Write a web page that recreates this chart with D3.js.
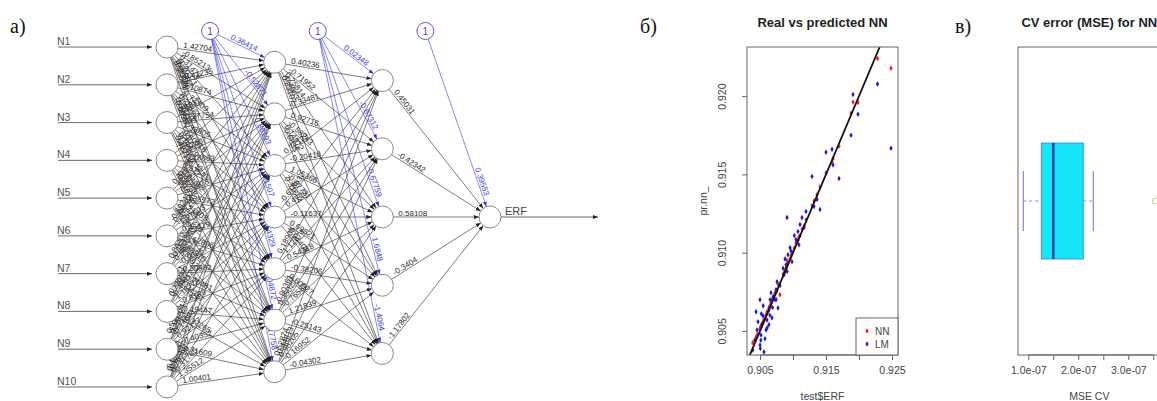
<!DOCTYPE html>
<html>
<head>
<meta charset="utf-8">
<script src="https://cdn.jsdelivr.net/npm/d3@7"></script>
<style>
  body { margin: 0; background: #fff; }
  svg { display: block; }
</style>
</head>
<body>
<div id="chart"></div>
<script>
// ---- a) network: names and weights
const inputNames = ["N1", "N2", "N3", "N4", "N5", "N6", "N7", "N8", "N9", "N10"];
const outputName = "ERF";
const hiddenSizes = [7, 5];
const wInHidden1 = [
  [1.42704, -0.85213, 0.31478, -1.20371, 0.66902, -0.23116, 0.95044],
  [-0.41235, 1.10874, -0.73309, 0.28861, -1.51702, 0.80433, -0.09987],
  [0.63120, -0.27754, 1.33905, -0.60018, 0.14429, -1.02856, 0.47713],
  [-1.13320, 0.52407, -0.18863, 0.97541, -0.44092, 0.36258, -0.81674],
  [0.21836, -0.96145, 0.70018, -0.35572, 1.21403, -0.57716, 0.08834],
  [-0.69241, 0.37725, -1.27603, 0.45119, -0.12806, 0.88315, -0.53927],
  [0.84402, -0.15338, 0.56674, -0.93057, 0.30982, -0.70481, 1.04367],
  [-0.26571, 0.73059, -0.48812, 1.16724, -0.81390, 0.19447, -0.37265],
  [0.55963, -1.08704, 0.25530, -0.14681, 0.92177, -0.40352, 0.71609],
  [-0.88124, 0.43891, -0.62357, 0.79206, -0.31765, 1.35512, 1.00401]
];
const bHidden1 = [0.36414, -0.52871, 0.88193, -0.21507, 0.64329, -1.04872, 0.17758];
const wHidden1Hidden2 = [
  [0.40236, -0.71952, 0.25814, -0.49630, 0.83107],
  [-0.33481, 0.92716, -0.58243, 0.14972, -0.68350],
  [0.77129, -0.20418, 1.05366, -0.87731, 0.31694],
  [-0.61853, 0.47290, -0.11637, 0.69521, -0.94408],
  [0.18905, -1.12674, 0.54318, -0.38206, 0.60927],
  [-0.90361, 0.35027, -0.76582, 1.21839, -0.25143],
  [0.52874, -0.44613, 0.98205, -0.16952, -0.04302]
];
const bHidden2 = [0.02348, -0.87312, -0.67759, 1.68480, -1.40640];
const wHidden2Out = [0.45031, -0.42342, 0.58108, -0.34040, -1.17802];
const bOut = [0.39553];

// ---- б) real vs predicted
const testERF = [0.90390, 0.90424, 0.90455, 0.90470, 0.90440, 0.90500, 0.90515, 0.90530, 0.90545, 0.90500,
  0.90560, 0.90591, 0.90606, 0.90636, 0.90652, 0.90667, 0.90636, 0.90682, 0.90727, 0.90742,
  0.90758, 0.90773, 0.90803, 0.90864, 0.90894, 0.90924, 0.90955, 0.90909, 0.90985, 0.91045,
  0.91076, 0.91106, 0.91136, 0.91167, 0.91197, 0.91318, 0.91364, 0.91288, 0.91409, 0.91500,
  0.91591, 0.91606, 0.91697, 0.91879, 0.91909, 0.91985, 0.92280, 0.92485,
  0.90505, 0.90512, 0.90520, 0.90548, 0.90575, 0.90610, 0.90650, 0.90690, 0.90700, 0.90745,
  0.90850, 0.90880, 0.90910, 0.90970, 0.91020, 0.91090];
const predNN = [0.90425, 0.90440, 0.90470, 0.90480, 0.90460, 0.90510, 0.90520, 0.90545, 0.90550, 0.90515,
  0.90570, 0.90600, 0.90620, 0.90650, 0.90660, 0.90680, 0.90640, 0.90700, 0.90740, 0.90750,
  0.90760, 0.90800, 0.90731, 0.90870, 0.90900, 0.90930, 0.90960, 0.90950, 0.91000, 0.91060,
  0.91080, 0.91110, 0.91150, 0.91170, 0.91210, 0.91330, 0.91370, 0.91300, 0.91420, 0.91510,
  0.91577, 0.91600, 0.91680, 0.91890, 0.91962, 0.91960, 0.92240, 0.92179,
  0.90512, 0.90530, 0.90528, 0.90560, 0.90580, 0.90615, 0.90655, 0.90700, 0.90710, 0.90750,
  0.90860, 0.90885, 0.90918, 0.90980, 0.91030, 0.91100];
const predLM = [0.90378, 0.90442, 0.90506, 0.90558, 0.90622, 0.90410, 0.90474, 0.90540, 0.90596, 0.90699,
  0.90365, 0.90506, 0.90570, 0.90635, 0.90699, 0.90744, 0.90540, 0.90583, 0.90699, 0.90763,
  0.90814, 0.90647, 0.90790, 0.90859, 0.90923, 0.90987, 0.91032, 0.91224, 0.90942, 0.91083,
  0.91135, 0.91180, 0.91224, 0.91160, 0.91263, 0.91295, 0.91340, 0.91487, 0.91276, 0.91641,
  0.91660, 0.91560, 0.91474, 0.91750, 0.92010, 0.91885, 0.92077, 0.91667,
  0.90388, 0.90440, 0.90610, 0.90660, 0.90450, 0.90520, 0.90600, 0.90650, 0.90720, 0.90700,
  0.90900, 0.90960, 0.90880, 0.91010, 0.91110, 0.91050];
const scatterXTicks = [0.905, 0.910, 0.915, 0.920, 0.925];
const scatterXLabels = ["0.905", "", "0.915", "", "0.925"];
const scatterYTicks = [0.905, 0.910, 0.915, 0.920];
const scatterYLabels = ["0.905", "0.910", "0.915", "0.920"];
const legendNames = ["NN", "LM"];

// ---- в) CV error boxplot
const cvErrors = [0.90e-7, 1.18e-7, 1.26e-7, 1.42e-7, 1.48e-7, 1.52e-7, 1.88e-7, 2.10e-7, 2.30e-7, 3.54e-7];
const cvTicks = [1.0e-7, 1.5e-7, 2.0e-7, 2.5e-7, 3.0e-7, 3.5e-7];
const cvTickLabels = ["1.0e-07", "", "2.0e-07", "", "3.0e-07", ""];

const sans = "'Liberation Sans', Arial, sans-serif";
const serif = "'Liberation Serif', 'Times New Roman', serif";

const svg = d3.select("#chart").append("svg")
  .attr("width", 1157)
  .attr("height", 401)
  .attr("font-family", sans);

const defs = svg.append("defs");
function marker(id, color) {
  defs.append("marker")
    .attr("id", id)
    .attr("viewBox", "0 0 10 10")
    .attr("refX", 10).attr("refY", 5)
    .attr("markerWidth", 5).attr("markerHeight", 5)
    .attr("markerUnits", "userSpaceOnUse")
    .attr("orient", "auto")
    .append("path").attr("d", "M0,1L10,5L0,9Z").attr("fill", color);
}
marker("arrBlack", "#222");
marker("arrBlue", "#3434d0");

// panel letters
[["a)", 10], ["б)", 640], ["в)", 955]].forEach(([t, x]) => {
  svg.append("text").attr("x", x).attr("y", 33)
    .attr("font-family", serif).attr("font-size", 20).attr("fill", "#111").text(t);
});

// ================= a) neural network =================
const net = svg.append("g");
const sizes = [inputNames.length, ...hiddenSizes, 1];
const layerX = d3.scaleLinear().domain([0, sizes.length - 1]).range([167, 490]);
const netMid = 217, netH = 423, R = 11, RB = 8.5, biasY = 31;

function layerY(n) {
  const span = netH * (n - 1) / (n + 1.2);
  return d3.scaleLinear().domain([0, Math.max(n - 1, 1)]).range([netMid - span / 2, netMid + span / 2]);
}
const layers = sizes.map((n, l) => {
  const y = layerY(n);
  return d3.range(n).map(i => ({ x: layerX(l), y: y(i) }));
});
const biasNodes = d3.range(sizes.length - 1).map(l => ({
  x: layerX(l) + 0.4 * (layerX(l + 1) - layerX(l)), y: biasY
}));
const weightSets = [wInHidden1, wHidden1Hidden2, wHidden2Out.map(v => [v])];
const biasSets = [bHidden1, bHidden2, bOut];

const fmt = v => String(+v.toFixed(5));
const edgeG = net.append("g");
const labelG = net.append("g").attr("font-size", 8);

function edge(a, b, ra, rb, w, bias) {
  const dx = b.x - a.x, dy = b.y - a.y, len = Math.hypot(dx, dy);
  const ux = dx / len, uy = dy / len;
  const color = bias ? "#3c3cd8" : "#333";
  edgeG.append("line")
    .attr("x1", a.x + ux * ra).attr("y1", a.y + uy * ra)
    .attr("x2", b.x - ux * rb).attr("y2", b.y - uy * rb)
    .attr("stroke", color).attr("stroke-width", 0.75)
    .attr("stroke-opacity", bias ? 0.8 : 0.85)
    .attr("marker-end", bias ? "url(#arrBlue)" : "url(#arrBlack)");
  const ang = Math.atan2(dy, dx) * 180 / Math.PI;
  let px, py, anchor;
  if (bias) { px = b.x - ux * 36; py = b.y - uy * 36; anchor = "middle"; }
  else { px = a.x + ux * (ra + 5); py = a.y + uy * (ra + 5); anchor = "start"; }
  labelG.append("text")
    .attr("transform", `translate(${px},${py}) rotate(${ang})`)
    .attr("dy", -1.5)
    .attr("text-anchor", anchor)
    .attr("fill", bias ? "#3c3cd8" : "#2a2a2a")
    .text(fmt(w));
}

weightSets.forEach((W, l) => {
  W.forEach((row, i) => row.forEach((w, j) => edge(layers[l][i], layers[l + 1][j], R, R, w, false)));
  biasSets[l].forEach((w, j) => edge(biasNodes[l], layers[l + 1][j], RB, R, w, true));
});

// input arrows and names
layers[0].forEach((p, i) => {
  net.append("line").attr("x1", 58).attr("y1", p.y).attr("x2", p.x - R - 4).attr("y2", p.y)
    .attr("stroke", "#444").attr("stroke-width", 0.8).attr("marker-end", "url(#arrBlack)");
  net.append("text").attr("x", 57).attr("y", p.y - 2)
    .attr("font-size", 10.5).attr("fill", "#555").text(inputNames[i]);
});
// output arrow
const outNode = layers[sizes.length - 1][0];
net.append("line").attr("x1", outNode.x + R).attr("y1", outNode.y).attr("x2", 598).attr("y2", outNode.y)
  .attr("stroke", "#444").attr("stroke-width", 0.8).attr("marker-end", "url(#arrBlack)");
net.append("text").attr("x", outNode.x + 15).attr("y", outNode.y - 2)
  .attr("font-size", 11).attr("fill", "#444").text(outputName);

// nodes
layers.flat().forEach(p => {
  net.append("circle").attr("cx", p.x).attr("cy", p.y).attr("r", R)
    .attr("fill", "#fff").attr("stroke", "#888").attr("stroke-width", 1);
});
biasNodes.forEach(p => {
  net.append("circle").attr("cx", p.x).attr("cy", p.y).attr("r", RB)
    .attr("fill", "#fff").attr("stroke", "#5a5ae0").attr("stroke-width", 1);
  net.append("text").attr("x", p.x).attr("y", p.y + 3.5).attr("text-anchor", "middle")
    .attr("font-size", 10).attr("fill", "#4646d8").text("1");
});

// ================= б) real vs predicted =================
const sc = { left: 747, right: 898, top: 47, bottom: 355 };
const sx = d3.scaleLinear().domain([0.90303, 0.92591]).range([sc.left, sc.right]);
const sy = d3.scaleLinear().domain([0.90346, 0.92314]).range([sc.bottom, sc.top]);
const gS = svg.append("g");

gS.append("text").attr("x", (sc.left + sc.right) / 2).attr("y", 27)
  .attr("text-anchor", "middle").attr("font-size", 13).attr("font-weight", "bold")
  .attr("fill", "#222").text("Real vs predicted NN");

defs.append("clipPath").attr("id", "scClip").append("rect")
  .attr("x", sc.left).attr("y", sc.top).attr("width", sc.right - sc.left).attr("height", sc.bottom - sc.top);

const pts = gS.append("g").attr("clip-path", "url(#scClip)");
const diamond = d3.symbol().type(d3.symbolDiamond).size(9);
pts.selectAll(".nn").data(testERF).join("path")
  .attr("transform", (d, i) => `translate(${sx(d)},${sy(predNN[i])})`)
  .attr("d", diamond).attr("fill", "#f02020");
pts.selectAll(".lm").data(testERF).join("path")
  .attr("transform", (d, i) => `translate(${sx(d)},${sy(predLM[i])})`)
  .attr("d", diamond).attr("fill", "#1c1cd8");
// abline(0, 1)
pts.append("line")
  .attr("x1", sx(sy.domain()[0])).attr("y1", sy(sy.domain()[0]))
  .attr("x2", sx(sy.domain()[1])).attr("y2", sy(sy.domain()[1]))
  .attr("stroke", "#111").attr("stroke-width", 1.8);

gS.append("rect").attr("x", sc.left).attr("y", sc.top)
  .attr("width", sc.right - sc.left).attr("height", sc.bottom - sc.top)
  .attr("fill", "none").attr("stroke", "#666");

function rAxisBottom(g, scale, ticks, labels, y) {
  const ax = g.append("g").attr("transform", `translate(0,${y})`)
    .call(d3.axisBottom(scale).tickValues(ticks).tickFormat((d, i) => labels[i]).tickSize(5).tickPadding(7));
  ax.select(".domain").remove();
  ax.append("line").attr("x1", scale(ticks[0])).attr("x2", scale(ticks[ticks.length - 1]))
    .attr("stroke", "#666");
  ax.selectAll(".tick line").attr("stroke", "#666");
  ax.selectAll("text").attr("font-size", 10.5).attr("fill", "#444").attr("font-family", sans);
  return ax;
}
rAxisBottom(gS, sx, scatterXTicks, scatterXLabels, sc.bottom);

const ay = gS.append("g").attr("transform", `translate(${sc.left},0)`)
  .call(d3.axisLeft(sy).tickValues(scatterYTicks).tickFormat((d, i) => scatterYLabels[i]).tickSize(5));
ay.select(".domain").remove();
ay.selectAll(".tick line").attr("stroke", "#666");
ay.selectAll("text").attr("font-size", 10.5).attr("fill", "#444").attr("font-family", sans)
  .attr("x", 0).attr("y", 0).attr("dy", "0.35em").attr("text-anchor", "middle")
  .attr("transform", "translate(-25,0) rotate(-90)");

gS.append("text").attr("x", (sc.left + sc.right) / 2).attr("y", 400)
  .attr("text-anchor", "middle").attr("font-size", 10.5).attr("fill", "#444").text("test$ERF");
gS.append("text").attr("transform", `translate(707,${(sc.top + sc.bottom) / 2}) rotate(-90)`)
  .attr("text-anchor", "middle").attr("font-size", 10.5).attr("fill", "#444").text("pr.nn_");

// legend
const lg = gS.append("g");
lg.append("rect").attr("x", 856).attr("y", 318).attr("width", sc.right - 856).attr("height", sc.bottom - 318)
  .attr("fill", "#fff").attr("stroke", "#666");
legendNames.forEach((n, i) => {
  const yy = 331 + i * 13;
  lg.append("path").attr("transform", `translate(867,${yy})`).attr("d", diamond)
    .attr("fill", i === 0 ? "#f02020" : "#1c1cd8");
  lg.append("text").attr("x", 875).attr("y", yy + 3.5).attr("font-size", 10).attr("fill", "#444").text(n);
});

// ================= в) CV error boxplot =================
const bx = { left: 1018, top: 47, bottom: 355 };
const ext = d3.extent(cvErrors), pad = (ext[1] - ext[0]) * 0.04;
const cx = d3.scaleLinear().domain([ext[0] - pad, ext[1] + pad]).range([bx.left, bx.left + (ext[1] - ext[0] + 2 * pad) * 50e7]);
const gB = svg.append("g");

gB.append("text").attr("x", (cx.range()[0] + cx.range()[1]) / 2).attr("y", 27)
  .attr("text-anchor", "middle").attr("font-size", 13).attr("font-weight", "bold")
  .attr("fill", "#222").text("CV error (MSE) for NN");

const sorted = cvErrors.slice().sort(d3.ascending);
const n = sorted.length, n4 = Math.floor((n + 3) / 2) / 2;
const [q0, q1, med, q3, q4] = [1, n4, (n + 1) / 2, n + 1 - n4, n]
  .map(d => 0.5 * (sorted[Math.floor(d) - 1] + sorted[Math.ceil(d) - 1]));
const iqr = q3 - q1;
const inside = sorted.filter(v => v >= q1 - 1.5 * iqr && v <= q3 + 1.5 * iqr);
const wLo = d3.min(inside), wHi = d3.max(inside);
const outliers = sorted.filter(v => v < wLo || v > wHi);
const cy = (bx.top + bx.bottom) / 2, boxH = 58, stapleH = 30;

gB.append("line").attr("x1", cx(wLo)).attr("x2", cx(q1)).attr("y1", cy).attr("y2", cy)
  .attr("stroke", "#8a8ae8").attr("stroke-dasharray", "3,3");
gB.append("line").attr("x1", cx(q3)).attr("x2", cx(wHi)).attr("y1", cy).attr("y2", cy)
  .attr("stroke", "#8a8ae8").attr("stroke-dasharray", "3,3");
[wLo, wHi].forEach(v => gB.append("line").attr("x1", cx(v)).attr("x2", cx(v))
  .attr("y1", cy - stapleH).attr("y2", cy + stapleH).attr("stroke", "#6a6ae0"));
gB.append("rect").attr("x", cx(q1)).attr("y", cy - boxH)
  .attr("width", cx(q3) - cx(q1)).attr("height", 2 * boxH)
  .attr("fill", "#14e6f8").attr("stroke", "#3a7ad8").attr("stroke-width", 0.8);
gB.append("line").attr("x1", cx(med)).attr("x2", cx(med)).attr("y1", cy - boxH).attr("y2", cy + boxH)
  .attr("stroke", "#1640b0").attr("stroke-width", 2.5);
outliers.forEach(v => gB.append("circle").attr("cx", cx(v)).attr("cy", cy).attr("r", 3)
  .attr("fill", "none").attr("stroke", "#c8c890"));

gB.append("rect").attr("x", bx.left).attr("y", bx.top)
  .attr("width", cx.range()[1] - bx.left).attr("height", bx.bottom - bx.top)
  .attr("fill", "none").attr("stroke", "#666");
rAxisBottom(gB, cx, cvTicks, cvTickLabels, bx.bottom);
gB.append("text").attr("x", (cx.range()[0] + cx.range()[1]) / 2).attr("y", 400)
  .attr("text-anchor", "middle").attr("font-size", 10.5).attr("fill", "#444").text("MSE CV");
</script>
</body>
</html>
